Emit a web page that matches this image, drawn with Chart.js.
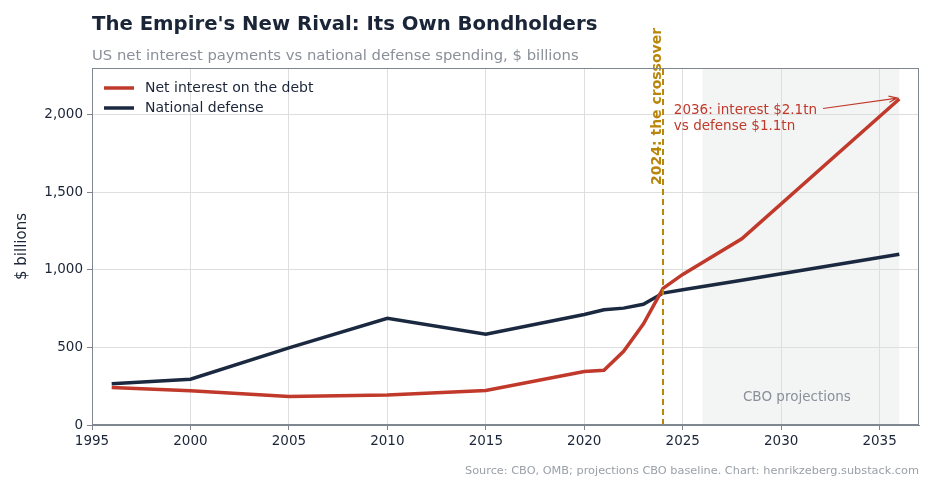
<!DOCTYPE html>
<html>
<head>
<meta charset="utf-8">
<script src="https://cdn.jsdelivr.net/npm/chart.js@4.4.1/dist/chart.umd.min.js"></script>
<style>
  html, body { margin: 0; padding: 0; background: #fff; }
  #wrap { width: 936px; height: 498px; }
</style>
</head>
<body>
<div id="wrap"><canvas id="chart" width="936" height="498"></canvas></div>
<script>
// values ($ billions)
const years = [1996, 2000, 2005, 2010, 2015, 2020, 2021, 2022, 2023, 2024, 2025, 2028, 2036];
const netInterest = [241, 221, 183, 194, 222, 345, 352, 475, 650, 880, 970, 1200, 2100];
const defense = [265, 295, 497, 688, 585, 712, 742, 753, 778, 850, 871, 933, 1100];
const xTicks = [1995, 2000, 2005, 2010, 2015, 2020, 2025, 2030, 2035];
const yTicks = [0, 500, 1000, 1500, 2000];
const seriesNames = ['Net interest on the debt', 'National defense'];

const RED = '#c0392b';
const NAVY = '#1b2940';
const GOLD = '#b8860b';
const INK = '#1b2538';
const FONT = "'DejaVu Sans', sans-serif";

const crossoverYear = 2024;
const projStart = 2026, projEnd = 2036;

function toPoints(vals) {
    return years.map((y, i) => ({ x: y, y: vals[i] }));
}

const decor = {
    id: 'decor',
    beforeDraw(chart) {
        const { ctx, chartArea: a, scales: { x } } = chart;
        ctx.save();
        ctx.fillStyle = '#f3f5f4';
        const x0 = x.getPixelForValue(projStart), x1 = x.getPixelForValue(projEnd);
        ctx.fillRect(x0, a.top, x1 - x0, a.bottom - a.top);
        ctx.restore();
    },
    afterDatasetsDraw(chart) {
        const { ctx, chartArea: a, scales: { x, y } } = chart;
        ctx.save();

        // crossover line
        const cx = x.getPixelForValue(crossoverYear);
        ctx.strokeStyle = GOLD;
        ctx.lineWidth = 2;
        ctx.setLineDash([6, 4]);
        ctx.beginPath();
        ctx.moveTo(cx, a.bottom);
        ctx.lineTo(cx, a.top);
        ctx.stroke();
        ctx.setLineDash([]);

        ctx.save();
        ctx.translate(cx - 6, 185);
        ctx.rotate(-Math.PI / 2);
        ctx.fillStyle = GOLD;
        ctx.font = 'bold 14px ' + FONT;
        ctx.textAlign = 'left';
        ctx.textBaseline = 'middle';
        ctx.fillText('2024: the crossover', 0, 0);
        ctx.restore();

        // projections label
        ctx.fillStyle = '#8a8f99';
        ctx.font = '13.5px ' + FONT;
        ctx.textAlign = 'center';
        ctx.textBaseline = 'middle';
        ctx.fillText('CBO projections', x.getPixelForValue((projStart + projEnd) / 2) - 4, y.getPixelForValue(180));

        // 2036 annotation
        const tx = x.getPixelForValue(2024.55), ty = y.getPixelForValue(2026);
        ctx.fillStyle = RED;
        ctx.textAlign = 'left';
        ctx.font = '13.5px ' + FONT;
        const line1 = '2036: interest $2.1tn';
        ctx.fillText(line1, tx, ty);
        ctx.fillText('vs defense $1.1tn', tx, ty + 16);
        const sx = tx + ctx.measureText(line1).width + 6, sy = ty - 2;
        const ex = x.getPixelForValue(2036) - 2, ey = y.getPixelForValue(2100) - 1;
        ctx.strokeStyle = RED;
        ctx.lineWidth = 1.2;
        ctx.beginPath();
        ctx.moveTo(sx, sy);
        ctx.lineTo(ex, ey);
        const ang = Math.atan2(ey - sy, ex - sx);
        ctx.moveTo(ex - 9 * Math.cos(ang - 0.35), ey - 9 * Math.sin(ang - 0.35));
        ctx.lineTo(ex, ey);
        ctx.lineTo(ex - 9 * Math.cos(ang + 0.35), ey - 9 * Math.sin(ang + 0.35));
        ctx.stroke();

        // frame
        ctx.strokeStyle = '#80868f';
        ctx.lineWidth = 1;
        ctx.strokeRect(a.left + 0.5, a.top + 0.5, a.right - a.left - 1, a.bottom - a.top - 1);

        // legend
        const colors = [RED, NAVY];
        ctx.font = '14px ' + FONT;
        ctx.textBaseline = 'middle';
        seriesNames.forEach((name, i) => {
            const ly = a.top + 20 + i * 20;
            ctx.strokeStyle = colors[i];
            ctx.lineWidth = 3.5;
            ctx.beginPath();
            ctx.moveTo(a.left + 12, ly);
            ctx.lineTo(a.left + 42, ly);
            ctx.stroke();
            ctx.fillStyle = INK;
            ctx.fillText(name, a.left + 53, ly);
        });

        ctx.restore();
    },
    afterDraw(chart) {
        const { ctx, chartArea: a } = chart;
        ctx.save();
        ctx.textAlign = 'left';
        ctx.textBaseline = 'middle';
        ctx.fillStyle = INK;
        ctx.font = 'bold 19.7px ' + FONT;
        ctx.fillText("The Empire's New Rival: Its Own Bondholders", a.left, 25);
        ctx.fillStyle = '#8a8f99';
        ctx.font = '14.8px ' + FONT;
        ctx.fillText('US net interest payments vs national defense spending, $ billions', a.left, 56);
        ctx.textAlign = 'right';
        ctx.fillStyle = '#9aa0a8';
        ctx.font = '11.3px ' + FONT;
        ctx.fillText('Source: CBO, OMB; projections CBO baseline. Chart: henrikzeberg.substack.com', a.right, 471);
        ctx.restore();
    }
};

new Chart(document.getElementById('chart'), {
    type: 'line',
    data: {
        datasets: [{
            label: seriesNames[0],
            data: toPoints(netInterest),
            borderColor: RED,
            backgroundColor: RED,
            borderWidth: 3.5,
            pointRadius: 0,
            tension: 0
        }, {
            label: seriesNames[1],
            data: toPoints(defense),
            borderColor: NAVY,
            backgroundColor: NAVY,
            borderWidth: 3.5,
            pointRadius: 0,
            tension: 0
        }]
    },
    options: {
        responsive: false,
        animation: false,
        layout: { padding: { left: 0, right: 17, top: 68, bottom: 0 } },
        plugins: {
            legend: { display: false },
            title: { display: false },
            tooltip: { enabled: false }
        },
        scales: {
            x: {
                type: 'linear',
                min: 1995,
                max: 2037,
                afterBuildTicks: s => { s.ticks = xTicks.map(v => ({ value: v })); },
                afterFit: s => { s.height = 73; },
                ticks: {
                    callback: v => String(v),
                    color: INK,
                    font: { family: FONT, size: 13.5 },
                    padding: 3,
                    maxRotation: 0
                },
                grid: { color: '#dedede', tickColor: '#80868f', tickLength: 5 },
                border: { color: '#80868f' }
            },
            y: {
                min: 0,
                max: 2300,
                afterBuildTicks: s => { s.ticks = yTicks.map(v => ({ value: v })); },
                afterFit: s => { s.width = 92; },
                ticks: {
                    callback: v => v.toLocaleString('en-US'),
                    color: INK,
                    font: { family: FONT, size: 13.5 },
                    padding: 4
                },
                grid: { color: '#dedede', tickColor: '#80868f', tickLength: 5 },
                border: { color: '#80868f' },
                title: {
                    display: true,
                    text: '$ billions',
                    color: INK,
                    font: { family: FONT, size: 15 },
                    padding: { top: 13, bottom: 0 }
                }
            }
        }
    },
    plugins: [decor]
});
</script>
</body>
</html>
